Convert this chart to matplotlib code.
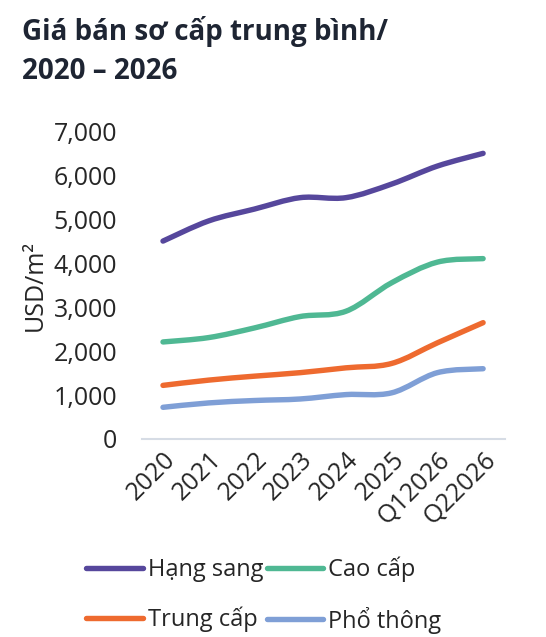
import numpy as np
import matplotlib
matplotlib.use("Agg")
import matplotlib.pyplot as plt
from matplotlib.path import Path
from matplotlib.patches import PathPatch
from matplotlib.lines import Line2D

plt.rcParams['font.family'] = ['Open Sans', 'DejaVu Sans']

categories = ['2020', '2021', '2022', '2023', '2024', '2025', 'Q12026', 'Q22026']
hang_sang = [4510, 4970, 5240, 5500, 5500, 5810, 6220, 6510]
cao_cap = [2210, 2310, 2530, 2790, 2910, 3560, 4030, 4110]
trung_cap = [1220, 1340, 1430, 1510, 1620, 1720, 2190, 2650]
pho_thong = [720, 820, 875, 910, 1010, 1050, 1510, 1600]

series = [
    ('Hạng sang', hang_sang, '#56479c'),
    ('Cao cấp', cao_cap, '#4fb893'),
    ('Trung cấp', trung_cap, '#ee6a2f'),
    ('Phổ thông', pho_thong, '#7f9fd6'),
]


def smooth_path(x, y):
    # excel-like smoothed line: cubic bezier with catmull-rom control points
    x = np.asarray(x, float)
    y = np.asarray(y, float)
    pts = np.column_stack([x, y])
    verts = [pts[0]]
    codes = [Path.MOVETO]
    n = len(pts)
    for i in range(n - 1):
        p0 = pts[i - 1] if i > 0 else pts[i]
        p1 = pts[i]
        p2 = pts[i + 1]
        p3 = pts[i + 2] if i + 2 < n else pts[i + 1]
        c1 = p1 + (p2 - p0) / 6.0
        c2 = p2 - (p3 - p1) / 6.0
        verts += [c1, c2, p2]
        codes += [Path.CURVE4] * 3
    return Path(verts, codes)


fig = plt.figure(figsize=(5.46, 6.37), dpi=100)
ax = fig.add_axes([0.260, 0.311, 0.665, 0.482])

x = np.arange(len(categories))
handles = {}
for name, vals, color in series:
    patch = PathPatch(smooth_path(x, vals), facecolor='none', edgecolor=color,
                      lw=3.9, capstyle='round', joinstyle='round')
    ax.add_patch(patch)
    handles[name] = Line2D([], [], color=color, lw=3.9, solid_capstyle='round', label=name)

ax.set_xlim(-0.46, 7.48)
ax.set_ylim(0, 7000)
ax.set_yticks(range(0, 7001, 1000))
ax.set_yticklabels([f'{v:,}' for v in range(0, 7001, 1000)])
ax.set_xticks(x)
ax.set_xticklabels(categories, rotation=45, ha='right', rotation_mode='anchor')

for s in ['top', 'right', 'left']:
    ax.spines[s].set_visible(False)
ax.spines['bottom'].set_color('#d6dce5')
ax.spines['bottom'].set_linewidth(1.5)
ax.tick_params(axis='both', length=0, labelsize=18, colors='#262626')
ax.tick_params(axis='y', pad=18)
ax.tick_params(axis='x', pad=6)
ax.set_ylabel('USD/m²', fontsize=18, color='#262626', labelpad=4)

fig.text(0.040, 0.975, 'Giá bán sơ cấp trung bình/\n2020 – 2026', fontsize=20,
         fontweight='bold', color='#1e2533', ha='left', va='top', linespacing=1.45)

# legend fills column-wise, so reorder to get rows as in the source
order = ['Hạng sang', 'Trung cấp', 'Cao cấp', 'Phổ thông']
fig.legend(handles=[handles[k] for k in order], ncol=2, loc='center left',
           bbox_to_anchor=(0.158, 0.066),
           frameon=False, fontsize=17, handlelength=2.4, handletextpad=0.2,
           columnspacing=0.15, labelspacing=1.05, borderaxespad=0, borderpad=0,
           labelcolor='#262626')

fig.savefig('out.png', dpi=100)
